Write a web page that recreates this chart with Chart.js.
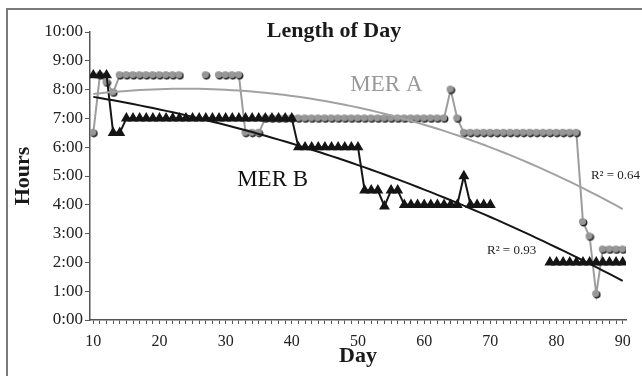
<!DOCTYPE html>
<html>
<head>
<meta charset="utf-8">
<title>Length of Day</title>
<script src="https://cdn.jsdelivr.net/npm/chart.js@4.4.0/dist/chart.umd.min.js"></script>
<style>
  body { margin: 0; background: #fff; }
  #wrap { position: relative; width: 642px; height: 376px; overflow: hidden; }
  #frame { position: absolute; left: 6px; top: 8px; width: 700px; height: 400px;
           border-left: 2px solid #7a7a7a; border-top: 2px solid #7a7a7a; }
  canvas { position: absolute; left: 0; top: 0; }
</style>
</head>
<body>
<div id="wrap"><div id="frame"></div><canvas id="chart" width="642" height="376"></canvas></div>
<script>
// days 10..90
const days = [
  10, 11, 12, 13, 14, 15, 16, 17, 18, 19,
  20, 21, 22, 23, 24, 25, 26, 27, 28, 29,
  30, 31, 32, 33, 34, 35, 36, 37, 38, 39,
  40, 41, 42, 43, 44, 45, 46, 47, 48, 49,
  50, 51, 52, 53, 54, 55, 56, 57, 58, 59,
  60, 61, 62, 63, 64, 65, 66, 67, 68, 69,
  70, 71, 72, 73, 74, 75, 76, 77, 78, 79,
  80, 81, 82, 83, 84, 85, 86, 87, 88, 89,
  90
];

// hours of daylight, MER A (gray circles)
const merA = [
  6.5, 8.5, 8.25, 7.9, 8.5, 8.5, 8.5, 8.5, 8.5, 8.5,
  8.5, 8.5, 8.5, 8.5, null, null, null, 8.5, null, 8.5,
  8.5, 8.5, 8.5, 6.5, 6.5, 6.5, 7, 7, 7, 7,
  7, 7, 7, 7, 7, 7, 7, 7, 7, 7,
  7, 7, 7, 7, 7, 7, 7, 7, 7, 7,
  7, 7, 7, 7, 8, 7, 6.5, 6.5, 6.5, 6.5,
  6.5, 6.5, 6.5, 6.5, 6.5, 6.5, 6.5, 6.5, 6.5, 6.5,
  6.5, 6.5, 6.5, 6.5, 3.4, 2.9, 0.9, 2.45, 2.45, 2.45,
  2.45
];

// hours of daylight, MER B (black triangles)
const merB = [
  8.5, 8.5, 8.5, 6.5, 6.5, 7, 7, 7, 7, 7,
  7, 7, 7, 7, 7, 7, 7, 7, 7, 7,
  7, 7, 7, 7, 7, 7, 7, 7, 7, 7,
  7, 6, 6, 6, 6, 6, 6, 6, 6, 6,
  6, 4.5, 4.5, 4.5, 3.95, 4.5, 4.5, 4, 4, 4,
  4, 4, 4, 4, 4, 4, 5, 4, 4, 4,
  4, null, null, null, null, null, null, null, null, 2,
  2, 2, 2, 2, 2, 2, 2, 2, 2, 2,
  2
];

const xTicks = [10, 20, 30, 40, 50, 60, 70, 80, 90];
const yTicks = [0, 1, 2, 3, 4, 5, 6, 7, 8, 9, 10];
const r2Labels = ['R² = 0.64', 'R² = 0.93'];

const serif = "'Liberation Serif', 'Times New Roman', serif";

// least squares, y = a + b*x + c*x^2 (like the Excel trendline)
function quadFit(xs, ys) {
    const pts = [];
    xs.forEach((x, i) => { if (ys[i] !== null) pts.push([x - 50, ys[i]]); });
    let s0 = 0, s1 = 0, s2 = 0, s3 = 0, s4 = 0, t0 = 0, t1 = 0, t2 = 0;
    for (const [x, y] of pts) {
        s0 += 1; s1 += x; s2 += x * x; s3 += x * x * x; s4 += x * x * x * x;
        t0 += y; t1 += x * y; t2 += x * x * y;
    }
    const m = [[s0, s1, s2, t0], [s1, s2, s3, t1], [s2, s3, s4, t2]];
    for (let i = 0; i < 3; i++) {
        for (let k = i + 1; k < 3; k++) {
            const f = m[k][i] / m[i][i];
            for (let j = i; j < 4; j++) m[k][j] -= f * m[i][j];
        }
    }
    const c = m[2][3] / m[2][2];
    const b = (m[1][3] - m[1][2] * c) / m[1][1];
    const a = (m[0][3] - m[0][1] * b - m[0][2] * c) / m[0][0];
    return x => a + b * (x - 50) + c * (x - 50) * (x - 50);
}

const fitA = quadFit(days, merA);
const fitB = quadFit(days, merB);

function toPoints(vals) {
    return days.map((d, i) => ({ x: d, y: vals[i] }));
}

// gray dot with a dark offset edge
const dot = document.createElement('canvas');
dot.width = 10; dot.height = 10;
const g = dot.getContext('2d');
g.fillStyle = '#1e1e1e';
g.beginPath(); g.arc(5.6, 5.6, 3.8, 0, 2 * Math.PI); g.fill();
g.fillStyle = '#979797';
g.beginPath(); g.arc(4.5, 4.5, 3.6, 0, 2 * Math.PI); g.fill();

// title and text notes
const notesPlugin = {
    id: 'notes',
    afterDraw(chart) {
        const ctx = chart.ctx;
        const x = chart.scales.x, y = chart.scales.y;
        ctx.save();
        ctx.textBaseline = 'middle';

        ctx.font = 'bold 22px ' + serif;
        ctx.fillStyle = '#1a1a1a';
        ctx.textAlign = 'center';
        ctx.fillText('Length of Day', 334, 31);

        ctx.font = '23px ' + serif;
        ctx.fillStyle = '#9a9a9a';
        ctx.fillText('MER A', x.getPixelForValue(54.3), y.getPixelForValue(8.16));
        ctx.fillStyle = '#111';
        ctx.fillText('MER B', x.getPixelForValue(37.1), y.getPixelForValue(4.86));

        ctx.font = '13px ' + serif;
        ctx.textAlign = 'left';
        ctx.fillStyle = '#222';
        ctx.fillText(r2Labels[0], x.getPixelForValue(85.2), y.getPixelForValue(5.03));
        ctx.fillText(r2Labels[1], x.getPixelForValue(69.5), y.getPixelForValue(2.4));
        ctx.restore();
    }
};

new Chart(document.getElementById('chart'), {
    type: 'line',
    data: {
        datasets: [
            {
                label: 'MER A trend',
                data: days.map(d => ({ x: d, y: fitA(d) })),
                borderColor: '#a2a2a2',
                borderWidth: 2,
                pointRadius: 0,
                order: 0
            },
            {
                label: 'MER B trend',
                data: days.map(d => ({ x: d, y: fitB(d) })),
                borderColor: '#151515',
                borderWidth: 2,
                pointRadius: 0,
                order: 0
            },
            {
                label: 'MER B',
                data: toPoints(merB),
                borderColor: '#151515',
                borderWidth: 2,
                pointStyle: 'triangle',
                pointRadius: 4.3,
                pointBackgroundColor: '#151515',
                pointBorderColor: '#151515',
                spanGaps: false,
                order: 1
            },
            {
                label: 'MER A',
                data: toPoints(merA),
                borderColor: '#9d9d9d',
                borderWidth: 2,
                pointStyle: dot,
                spanGaps: false,
                order: 2
            }
        ]
    },
    options: {
        responsive: false,
        animation: false,
        layout: { padding: { left: 0, right: 16, top: 32, bottom: 0 } },
        plugins: { legend: { display: false }, tooltip: { enabled: false } },
        scales: {
            x: {
                type: 'linear',
                min: 9.5,
                max: 90.5,
                afterBuildTicks: s => { s.ticks = days.map(d => ({ value: d })); },
                afterFit: s => { s.height = 56; },
                ticks: {
                    autoSkip: false,
                    maxRotation: 0,
                    padding: 8,
                    color: '#222',
                    font: { family: serif, size: 16 },
                    callback: v => xTicks.includes(v) ? String(v) : ''
                },
                grid: { drawOnChartArea: false, tickLength: 4, color: '#555' },
                border: { color: '#555', width: 1.5 },
                title: {
                    display: true,
                    text: 'Day',
                    color: '#1a1a1a',
                    font: { family: serif, size: 22, weight: 'bold' },
                    padding: { top: 0, bottom: 6 }
                }
            },
            y: {
                min: 0,
                max: 10,
                afterBuildTicks: s => { s.ticks = yTicks.map(v => ({ value: v })); },
                afterFit: s => { s.width = 90; },
                ticks: {
                    padding: 2,
                    color: '#222',
                    font: { family: serif, size: 17 },
                    callback: v => v + ':00'
                },
                grid: { drawOnChartArea: false, tickLength: 5, color: '#555' },
                border: { color: '#555', width: 1.5 },
                title: {
                    display: true,
                    text: 'Hours',
                    color: '#1a1a1a',
                    font: { family: serif, size: 22, weight: 'bold' },
                    padding: { top: 10, bottom: 0 }
                }
            }
        }
    },
    plugins: [notesPlugin]
});
</script>
</body>
</html>
